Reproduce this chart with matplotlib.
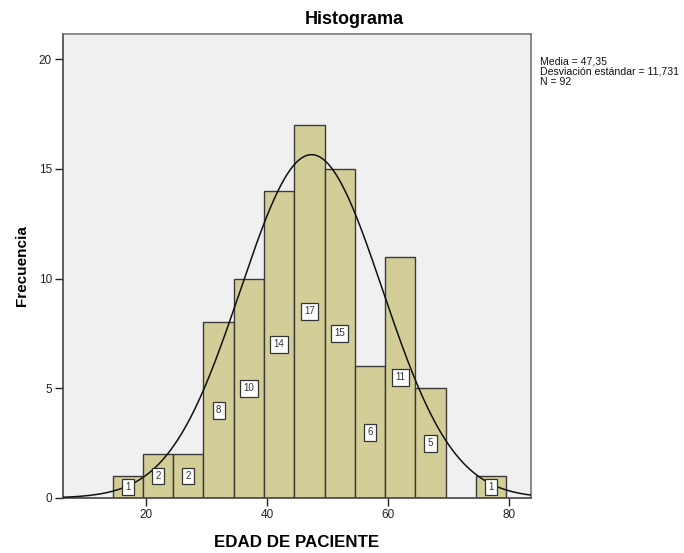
import numpy as np
import matplotlib
matplotlib.use("Agg")
import matplotlib.pyplot as plt

bin_edges = [14.5, 19.5, 24.5, 29.5, 34.5, 39.5, 44.5, 49.5, 54.5, 59.5, 64.5, 69.5, 74.5, 79.5]
counts = [1, 2, 2, 8, 10, 14, 17, 15, 6, 11, 5, 0, 1]
mean = 47.35
std = 11.731
n = 92
x_ticks = [20, 40, 60, 80]
y_ticks = [0, 5, 10, 15, 20]

plt.rcParams['font.family'] = ['Liberation Sans', 'DejaVu Sans']

fig = plt.figure(figsize=(6.84, 5.53), dpi=100)
ax = fig.add_axes([63/684, 55/553, (531-63)/684, (498-34)/553])
ax.set_facecolor('#F0F0F0')

edges = np.array(bin_edges, dtype=float)
lefts = edges[:-1]
widths = np.diff(edges)
for l, w, c in zip(lefts, widths, counts):
    if c > 0:
        ax.bar(l, c, width=w, align='edge', color='#D3CE97', edgecolor='#3A3A3A', linewidth=1.0, zorder=2)
        ax.text(l + w/2, c/2, str(c), ha='center', va='center', fontsize=7, color='#333333', zorder=4,
                bbox=dict(boxstyle='square,pad=0.35', facecolor='white', edgecolor='#333333', linewidth=0.9))

xlim = (6.3, 83.6)
xs = np.linspace(xlim[0], xlim[1], 400)
bw = widths[0]
ys = n * bw / (std * np.sqrt(2*np.pi)) * np.exp(-0.5*((xs-mean)/std)**2)
ax.plot(xs, ys, color='#111111', linewidth=1.1, zorder=3)

ax.set_xlim(*xlim)
ax.set_ylim(0, 21.14)
ax.set_xticks(x_ticks)
ax.set_yticks(y_ticks)
ax.tick_params(axis='both', direction='out', length=6, width=1, labelsize=8.5, colors='#222222', pad=2)
for s in ['left', 'bottom']:
    ax.spines[s].set_color('#444444')
    ax.spines[s].set_linewidth(1.2)
for s in ['top', 'right']:
    ax.spines[s].set_color('#777777')
    ax.spines[s].set_linewidth(1.2)

fig.text(354/684, 1 - 20/553, 'Histograma', fontsize=13, fontweight='bold', ha='center', va='center')
ax.set_xlabel('EDAD DE PACIENTE', fontsize=12.2, fontweight='bold', labelpad=10)
ax.set_ylabel('Frecuencia', fontsize=11, fontweight='bold', labelpad=7)

fig.text(540/684, 1 - 57/553, 'Media = 47,35\nDesviación estándar = 11,731\nN = 92',
         fontsize=7.6, va='top', ha='left', linespacing=1.0, color='#111111')

fig.savefig('out.png', dpi=100)
